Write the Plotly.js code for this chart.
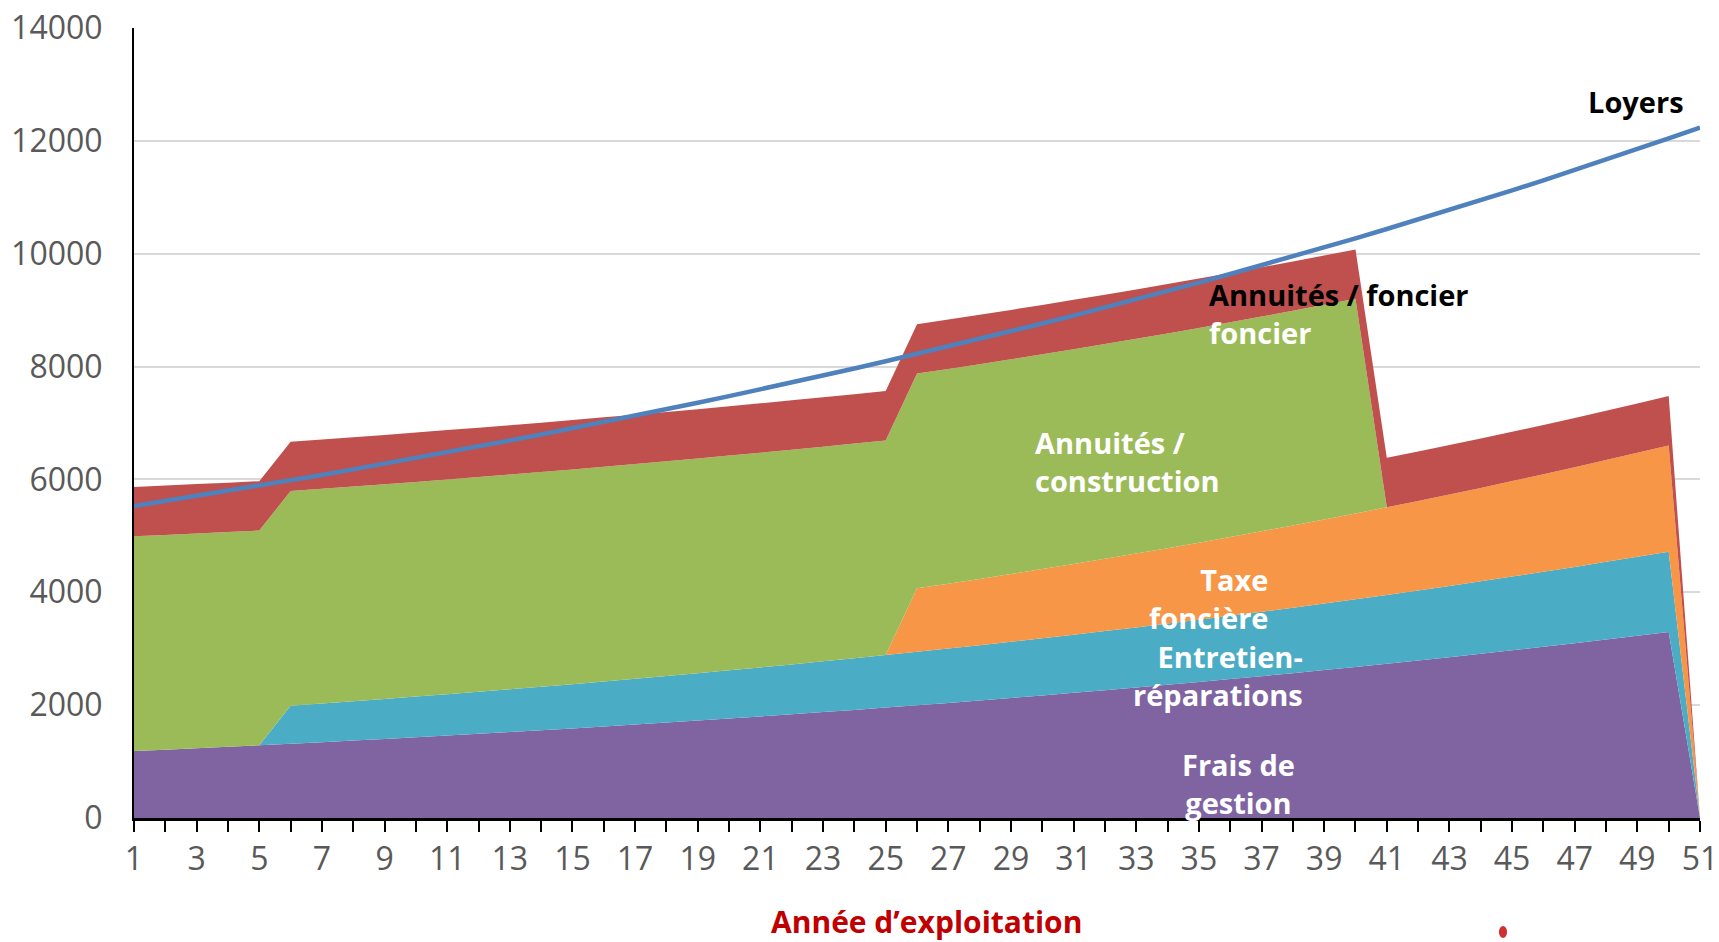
<!DOCTYPE html>
<html>
<head>
<meta charset="utf-8">
<script src="https://cdn.plot.ly/plotly-3.0.1.min.js"></script>
<style>
  html, body { margin: 0; padding: 0; background: #ffffff; }
  #chart { width: 1719px; height: 942px; }
</style>
</head>
<body>
<div id="chart"></div>
<script>
// Années d'exploitation
const annees = [1,2,3,4,5,6,7,8,9,10,11,12,13,14,15,16,17,18,19,20,21,22,23,24,25,26,27,28,29,30,31,32,33,34,35,36,37,38,39,40,41,42,43,44,45,46,47,48,49,50,51];

// Séries empilées
const fraisGestion = [1186,1211,1237,1263,1289,1316,1344,1372,1401,1431,1461,1492,1523,1555,1588,1622,1656,1691,1726,1763,1800,1838,1877,1916,1957,1998,2040,2083,2127,2172,2218,2265,2313,2361,2411,2462,2514,2567,2621,2676,2733,2790,2849,2909,2971,3033,3097,3163,3229,3297,0];
const entretien = [0,0,0,0,0,673,685,696,708,720,733,745,758,771,784,798,811,825,839,854,868,883,899,914,930,946,962,978,995,1012,1030,1047,1065,1084,1102,1121,1141,1160,1180,1200,1221,1242,1263,1285,1307,1330,1352,1376,1399,1423,0];
const taxeFonciere = [0,0,0,0,0,0,0,0,0,0,0,0,0,0,0,0,0,0,0,0,0,0,0,0,0,1127,1151,1176,1202,1228,1254,1281,1309,1337,1366,1396,1426,1457,1488,1520,1553,1587,1621,1656,1692,1728,1765,1804,1843,1882,0];
const annuitesConstruction = [3805,3805,3805,3805,3805,3805,3805,3805,3805,3805,3805,3805,3805,3805,3805,3805,3805,3805,3805,3805,3805,3805,3805,3805,3805,3805,3805,3805,3805,3805,3805,3805,3805,3805,3805,3805,3805,3805,3805,3805,0,0,0,0,0,0,0,0,0,0,0];
const annuitesFoncier = [875,875,875,875,875,875,875,875,875,875,875,875,875,875,875,875,875,875,875,875,875,875,875,875,875,875,875,875,875,875,875,875,875,875,875,875,875,875,875,875,875,875,875,875,875,875,875,875,875,875,0];
// Loyers (ligne)
const loyers = [5527,5616,5706,5797,5890,5984,6080,6178,6277,6377,6479,6583,6689,6796,6905,7015,7128,7242,7358,7476,7595,7717,7841,7966,8094,8224,8355,8489,8625,8763,8904,9046,9191,9339,9488,9640,9795,9952,10111,10273,10438,10605,10775,10948,11123,11301,11482,11666,11853,12043,12236];

const yTicks = [0,2000,4000,6000,8000,10000,12000,14000];
const yTickText = ['0','2000','4000','6000','8000','10000','12000','14000'];

const stacks = [
  {name: 'Frais de gestion', y: fraisGestion, color: '#8064A2'},
  {name: 'Entretien-réparations', y: entretien, color: '#4BACC6'},
  {name: 'Taxe foncière', y: taxeFonciere, color: '#F79646'},
  {name: 'Annuités / construction', y: annuitesConstruction, color: '#9BBB59'},
  {name: 'Annuités / foncier', y: annuitesFoncier, color: '#C0504D'}
];

const traces = stacks.map(s => ({
  type: 'scatter',
  x: annees,
  y: s.y,
  name: s.name,
  mode: 'none',
  stackgroup: 'one',
  fillcolor: s.color,
  line: {width: 0, color: s.color},
  hoverinfo: 'x+y+name'
}));

traces.push({
  type: 'scatter',
  x: annees,
  y: loyers,
  name: 'Loyers',
  mode: 'lines',
  line: {color: '#4F81BD', width: 4.5}
});

const lblFont = {family: 'Open Sans, sans-serif', size: 29, color: '#ffffff', weight: 'bold'};
const blackFont = {family: 'Open Sans, sans-serif', size: 29, color: '#000000', weight: 'bold'};

function ann(text, x, y, xanchor, align, font) {
  return {text: text, x: x, y: y, xref: 'x', yref: 'y', xanchor: xanchor, yanchor: 'middle',
          align: align, showarrow: false, font: font};
}

const annotations = [
  ann('Loyers', 50.55, 12690, 'right', 'right', blackFont),
  ann('Annuités / foncier<br><span style="color:#ffffff">foncier</span>', 35.26, 8947, 'left', 'left', blackFont),
  ann('Annuités /<br>construction', 29.70, 6310, 'left', 'left', lblFont),
  ann('Taxe<br>foncière', 37.27, 3885, 'right', 'right', lblFont),
  ann('Entretien-<br>réparations', 38.39, 2522, 'right', 'right', lblFont),
  ann('Frais de<br>gestion', 36.28, 611, 'center', 'center', lblFont),
  {text: 'Année d’exploitation', x: 0.506, y: -0.131, xref: 'paper', yref: 'paper',
   xanchor: 'center', yanchor: 'middle', showarrow: false,
   font: {family: 'Open Sans, sans-serif', size: 30, color: '#C00000', weight: 'bold'}}
];

const layout = {
  width: 1719,
  height: 942,
  margin: {l: 134, r: 19, t: 28, b: 124},
  paper_bgcolor: '#ffffff',
  plot_bgcolor: '#ffffff',
  showlegend: false,
  xaxis: {
    range: [1, 51],
    tick0: 1,
    dtick: 2,
    ticks: 'outside',
    ticklen: 11,
    tickwidth: 2,
    tickcolor: '#000000',
    showline: true,
    linecolor: '#000000',
    linewidth: 2.5,
    showgrid: false,
    zeroline: false,
    ticklabelstandoff: 0,
    tickfont: {family: 'Open Sans, sans-serif', size: 32, color: '#595959'},
    minor: {dtick: 1, ticks: 'outside', ticklen: 11, tickwidth: 2, tickcolor: '#000000', showgrid: false}
  },
  yaxis: {
    range: [0, 14000],
    tickmode: 'array',
    tickvals: yTicks,
    ticktext: yTickText,
    showgrid: true,
    gridcolor: '#D9D9D9',
    gridwidth: 2,
    showline: true,
    linecolor: '#000000',
    linewidth: 2,
    ticks: '',
    zeroline: false,
    ticklabelstandoff: 23,
    tickfont: {family: 'Open Sans, sans-serif', size: 32, color: '#595959'}
  },
  annotations: annotations,
  shapes: [
    {type: 'circle', xref: 'paper', yref: 'paper', x0: 0.8716, x1: 0.8768, y0: -0.1519, y1: -0.1367,
     fillcolor: '#D0302F', line: {width: 0}}
  ]
};

Plotly.newPlot('chart', traces, layout, {displayModeBar: false, staticPlot: true});
</script>
</body>
</html>
